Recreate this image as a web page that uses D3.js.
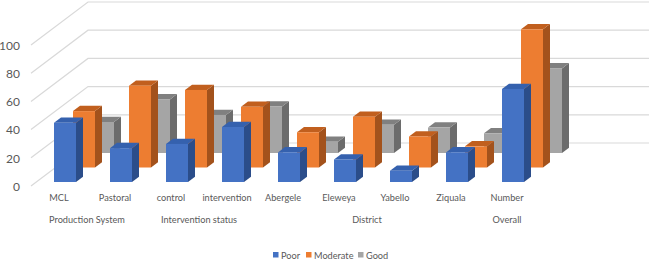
<!DOCTYPE html>
<html>
<head>
<meta charset="utf-8">
<script src="https://cdn.jsdelivr.net/npm/d3@7"></script>
<style>
  html, body { margin: 0; padding: 0; background: #fff; }
  svg { display: block; }
  text { font-family: Lato, "Open Sans", sans-serif; fill: #595959; }
</style>
</head>
<body>
<script>
// Values
const categories = ["MCL", "Pastoral", "control", "intervention", "Abergele", "Eleweya", "Yabello", "Ziquala", "Number"];
const poor = [42, 24, 27, 39, 21, 16, 8, 21, 66];
const moderate = [40, 58, 55, 43, 25, 36, 22, 15, 98];
const good = [22, 38, 27, 33, 8, 20, 18, 14, 60];
const yTicks = [0, 20, 40, 60, 80, 100];
const groups = [
    {name: "Production System", from: "MCL", to: "Pastoral"},
    {name: "Intervention status", from: "control", to: "intervention"},
    {name: "District", from: "Abergele", to: "Ziquala"},
    {name: "Overall", from: "Number", to: "Number"}
];
const seriesNames = ["Poor", "Moderate", "Good"];
const seriesValues = [poor, moderate, good];

const width = 649, height = 260;
const colors = {
    Poor: {front: "#4472c4", side: "#2b4d8a", top: "#3561ae"},
    Moderate: {front: "#ed7d31", side: "#a3521c", top: "#c15f1e"},
    Good: {front: "#a5a5a5", side: "#6c6c6c", top: "#808080"}
};

const svg = d3.select("body").append("svg")
    .attr("width", width)
    .attr("height", height);

// x is the front row, y is height above the floor
const x = d3.scaleBand().domain(categories).range([54, 524]).paddingInner(34 / 56);
const y = d3.scaleLinear().domain([0, 100]).range([0, -141]);

// depth goes from the front edge of the floor to the back wall
const depthX = d3.scaleLinear().domain([0, 1]).range([31, 88]);
const depthY = d3.scaleLinear().domain([0, 1]).range([186, 143]);

// each series sits on its own row, with its own baseline
const rowX = d3.scalePoint().domain(seriesNames).range([0, 38]);
const rowY = d3.scalePoint().domain(seriesNames).range([182, 153]);
const barDepthX = 7, barDepthY = 5.3;

// Gridlines: left wall and back wall
const grid = svg.append("g");
yTicks.forEach(t => {
    grid.append("polyline")
        .attr("points", [
            [depthX(0), depthY(0) + y(t)],
            [depthX(1), depthY(1) + y(t)],
            [width, depthY(1) + y(t)]
        ].join(" "))
        .attr("fill", "none")
        .attr("stroke", "#d9d9d9")
        .attr("stroke-width", 1.2);
});

// Bars, back row first so the front row covers it
[2, 1, 0].forEach(s => {
    let name = seriesNames[s];
    let g = svg.append("g");
    let bars = g.selectAll("g")
        .data(seriesValues[s].map((v, i) => ({cat: categories[i], v: v})))
        .enter().append("g");
    let left = d => x(d.cat) + rowX(name);
    let right = d => left(d) + x.bandwidth();
    let bottom = rowY(name);
    let top = d => bottom + y(d.v);

    bars.append("polygon")
        .attr("fill", colors[name].side)
        .attr("points", d => [
            [right(d), bottom],
            [right(d), top(d)],
            [right(d) + barDepthX, top(d) - barDepthY],
            [right(d) + barDepthX, bottom - barDepthY]
        ].join(" "));
    bars.append("polygon")
        .attr("fill", colors[name].top)
        .attr("points", d => [
            [left(d), top(d)],
            [right(d), top(d)],
            [right(d) + barDepthX, top(d) - barDepthY],
            [left(d) + barDepthX, top(d) - barDepthY]
        ].join(" "));
    bars.append("rect")
        .attr("fill", colors[name].front)
        .attr("x", left)
        .attr("y", top)
        .attr("width", x.bandwidth())
        .attr("height", d => bottom - top(d));
});

// Value axis
const yAxis = svg.append("g")
    .attr("transform", "translate(23," + (depthY(0) + 0.5) + ")")
    .call(d3.axisLeft(y).tickValues(yTicks).tickSize(0).tickPadding(3));
yAxis.select(".domain").remove();
yAxis.selectAll("text")
    .style("font-family", "Lato, sans-serif")
    .style("font-size", "12px")
    .style("fill", "#595959");

// Category axis
const labelX = d => x(d) + x.bandwidth() / 2 - 6;
const xAxis = svg.append("g")
    .attr("transform", "translate(-6,192.5)")
    .call(d3.axisBottom(x).tickSize(0).tickPadding(2));
xAxis.select(".domain").remove();
xAxis.selectAll("text")
    .style("font-family", "Lato, sans-serif")
    .style("font-size", "9.2px")
    .style("fill", "#595959");

// Group labels under the categories
svg.selectAll(".group")
    .data(groups)
    .enter().append("text")
    .attr("class", "group")
    .attr("x", d => (labelX(d.from) + labelX(d.to)) / 2)
    .attr("y", 222.5)
    .attr("text-anchor", "middle")
    .style("font-size", "9.2px")
    .text(d => d.name);

// Legend
const legendX = d3.scaleOrdinal().domain(seriesNames).range([273, 306, 358]);
const legend = svg.selectAll(".legend")
    .data(seriesNames)
    .enter().append("g")
    .attr("class", "legend")
    .attr("transform", d => "translate(" + legendX(d) + ",252)");
legend.append("rect")
    .attr("width", 5.5)
    .attr("height", 5.5)
    .attr("fill", d => colors[d].front);
legend.append("text")
    .attr("x", 8)
    .attr("y", 6.5)
    .style("font-size", "9.2px")
    .text(d => d);
</script>
</body>
</html>
